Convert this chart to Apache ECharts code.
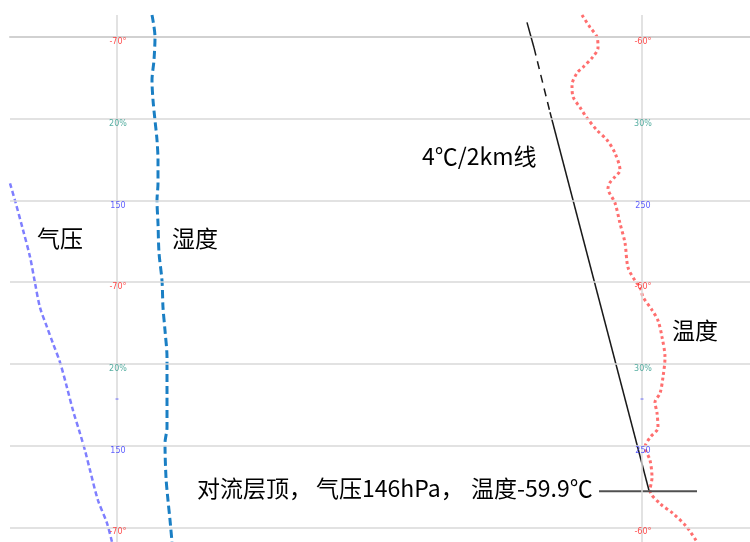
<!DOCTYPE html>
<html>
<head>
<meta charset="utf-8">
<script src="https://cdn.jsdelivr.net/npm/echarts@6/dist/echarts.min.js"></script>
<style>html,body{margin:0;padding:0;background:#fff}#c{width:750px;height:542px}</style>
</head>
<body>
<div id="c"></div>
<script>
// Height levels: gridlines at integer levels 0..6 (level grows downward in picture)
const gridLevels = [0, 1, 2, 3, 4, 5, 6];
const leftRefX = 117;
const rightRefX = 642;
const leftLevelLabels = ['-70°', '20%', '150', '-70°', '20%', '150', '-70°'];
const rightLevelLabels = ['-60°', '30%', '250', '-60°', '30%', '250', '-60°'];
const minorMarkLevels = [4.43];

// Pressure profile (left, purple): [x, level]
const pressureX = [10, 15, 23, 30, 35, 40, 47, 53, 60, 67, 73, 80, 85, 90, 98, 107, 112];
const pressureLv = [1.79, 2.00, 2.36, 2.69, 3.01, 3.31, 3.55, 3.75, 3.98, 4.29, 4.57, 4.85, 5.06, 5.30, 5.67, 5.95, 6.18];

// Humidity profile (left, blue)
const humidityX = [152, 155, 154, 152, 153, 155, 157, 158, 158, 157, 158, 159, 162, 163, 165, 167, 167, 167, 165, 166, 168, 170, 172];
const humidityLv = [-0.27, 0, 0.28, 0.53, 0.77, 1.02, 1.26, 1.51, 1.79, 2.00, 2.28, 2.64, 2.98, 3.31, 3.59, 3.92, 4.36, 4.78, 4.97, 5.39, 5.67, 5.91, 6.18];

// Temperature profile (right, red)
const tempX = [582, 590, 597, 598, 593, 583, 577, 572, 573, 580, 587, 597, 607, 615, 620, 615, 610, 608, 615, 620, 625, 628, 635, 640, 643, 652, 658, 662, 665, 663, 660, 655, 657, 658, 650, 645, 650, 652, 650, 660, 673, 687, 697];
const tempLv = [-0.27, -0.12, 0, 0.13, 0.24, 0.37, 0.44, 0.59, 0.73, 0.86, 0.99, 1.14, 1.26, 1.42, 1.63, 1.71, 1.78, 1.85, 2.03, 2.28, 2.52, 2.82, 2.98, 3.06, 3.18, 3.34, 3.47, 3.67, 3.92, 4.16, 4.36, 4.47, 4.60, 4.78, 4.90, 5.02, 5.18, 5.39, 5.55, 5.71, 5.83, 6.00, 6.18];

// 4°C/2km reference line: solid / dashed / solid pieces
const lapseTopX = [527, 534];
const lapseTopLv = [-0.18, 0.13];
const lapseDashX = [534, 550];
const lapseDashLv = [0.13, 0.92];
const lapseLowX = [550, 649];
const lapseLowLv = [0.92, 5.55];

// Tropopause marker line
const tropoX = [599, 697];
const tropoLv = [5.56, 5.56];

const labelColors = ['#ff2020', '#2a9a8a', '#3434ff'];

function zip(xs, ys) { return xs.map((x, i) => [x, ys[i]]); }

const chart = echarts.init(document.getElementById('c'), null, {renderer: 'canvas'});

const refLabelData = [];
gridLevels.forEach((lv, i) => {
  refLabelData.push({value: [leftRefX, lv], label: {formatter: leftLevelLabels[i], color: labelColors[i % 3]}});
  refLabelData.push({value: [rightRefX, lv], label: {formatter: rightLevelLabels[i], color: labelColors[i % 3]}});
});
const minorMarkData = [];
minorMarkLevels.forEach(lv => { minorMarkData.push([leftRefX, lv]); minorMarkData.push([rightRefX, lv]); });

const cjk = '"Noto Sans CJK SC", "Noto Sans", sans-serif';
const bigFont = '23px ' + cjk;

chart.setOption({
  animation: false,
  backgroundColor: '#ffffff',
  grid: {left: 10, right: 0, top: 15, bottom: 0},
  xAxis: {
    type: 'value', min: 10, max: 750, position: 'top',
    axisLine: {show: true, lineStyle: {color: '#a8a8a8', width: 1.5}},
    axisTick: {show: false}, axisLabel: {show: false}, splitLine: {show: false}
  },
  yAxis: {
    type: 'value', inverse: true, min: -0.27, max: 6.18, show: false, splitLine: {show: false}
  },
  series: [
    {
      type: 'line', data: [], silent: true, z: 1,
      markLine: {
        silent: true, symbol: 'none', animation: false,
        label: {show: false},
        lineStyle: {color: '#d8d8d8', width: 1.5, type: 'solid'},
        data: gridLevels.map(l => ({yAxis: l})).concat([{xAxis: leftRefX}, {xAxis: rightRefX}])
      }
    },
    {
      name: '气压', type: 'line', data: zip(pressureX, pressureLv), showSymbol: false, smooth: 0.3, z: 3,
      lineStyle: {color: '#7f7fff', width: 2.5, type: [5, 3]}
    },
    {
      name: '湿度', type: 'line', data: zip(humidityX, humidityLv), showSymbol: false, smooth: 0.3, z: 3,
      lineStyle: {color: '#1a7fc4', width: 3, type: [8, 4]}
    },
    {
      name: '温度', type: 'line', data: zip(tempX, tempLv), showSymbol: false, smooth: 0.3, z: 3,
      lineStyle: {color: '#ff6f6f', width: 3, type: [3, 3]}
    },
    {
      type: 'line', data: zip(lapseTopX, lapseTopLv), showSymbol: false, z: 4,
      lineStyle: {color: '#1a1a1a', width: 1.5}
    },
    {
      type: 'line', data: zip(lapseDashX, lapseDashLv), showSymbol: false, z: 4,
      lineStyle: {color: '#1a1a1a', width: 1.5, type: [8, 6]}
    },
    {
      type: 'line', data: zip(lapseLowX, lapseLowLv), showSymbol: false, z: 4,
      lineStyle: {color: '#1a1a1a', width: 1.5}
    },
    {
      type: 'line', data: zip(tropoX, tropoLv), showSymbol: false, z: 4,
      lineStyle: {color: '#505050', width: 2}
    },
    {
      type: 'scatter', data: refLabelData, symbolSize: 0, z: 5, silent: true,
      label: {show: true, position: 'inside', offset: [1, 5], fontSize: 8, fontFamily: '"DejaVu Sans", sans-serif'}
    },
    {
      type: 'scatter', data: minorMarkData, symbol: 'rect', symbolSize: [3, 1], z: 5, silent: true,
      itemStyle: {color: '#5050ff'}
    }
  ],
  graphic: [
    {type: 'text', left: 422, top: 145, style: {text: '4℃/2km线', font: bigFont, fill: '#000'}},
    {type: 'text', left: 37, top: 227, style: {text: '气压', font: bigFont, fill: '#000'}},
    {type: 'text', left: 172, top: 227, style: {text: '湿度', font: bigFont, fill: '#000'}},
    {type: 'text', left: 672, top: 319, style: {text: '温度', font: bigFont, fill: '#000'}},
    {type: 'text', left: 197, top: 477, style: {text: '对流层顶，', font: bigFont, fill: '#000'}},
    {type: 'text', left: 316, top: 477, style: {text: '气压146hPa，', font: bigFont, fill: '#000'}},
    {type: 'text', left: 471, top: 477, style: {text: '温度-59.9℃', font: bigFont, fill: '#000'}}
  ]
});
</script>
</body>
</html>
